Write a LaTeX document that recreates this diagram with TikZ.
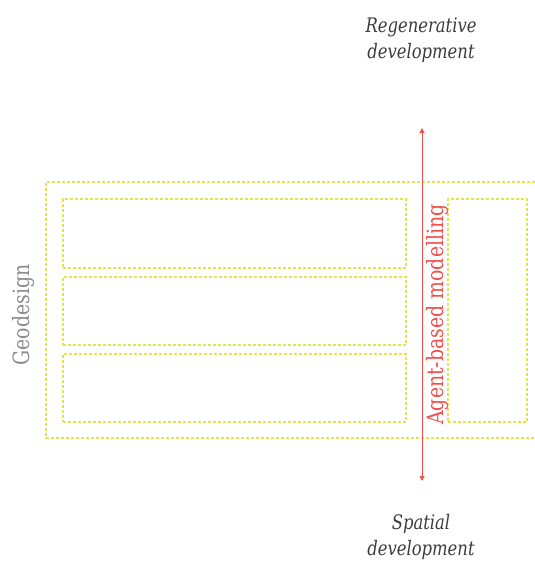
\documentclass[tikz,border=0pt]{standalone}
\usepackage{fontspec}
\setmainfont{DejaVu Serif}
\newfontfamily\labfont[FakeStretch=0.82]{DejaVu Serif}
\newfontfamily\upfont[FakeStretch=0.84]{DejaVu Serif}
\usetikzlibrary{arrows.meta}
\definecolor{dashyellow}{HTML}{E6E24A}
\definecolor{arrowred}{HTML}{F0504A}
\definecolor{darkgray}{HTML}{3C3C3C}
\definecolor{geogray}{HTML}{8C8C8C}
\begin{document}
\begin{tikzpicture}[x=1pt,y=-1pt,
  dashline/.style={draw=dashyellow, line width=1.4pt, dash pattern=on 3pt off 2pt},
  dashbox/.style={dashline, rectangle, inner sep=0pt},
  itlabel/.style={align=center, text=darkgray, inner sep=0pt,
    font={\labfont\fontsize{20}{26}\selectfont\itshape}},
  uplabel/.style={inner sep=0pt, font={\upfont\fontsize{22.5}{26}\selectfont}},
  axis/.style={draw=arrowred, line width=0.9pt, {Triangle[length=5pt,width=5pt]}-{Triangle[length=5pt,width=5pt]}}
]
\useasboundingbox (0,0) rectangle (535,565);
% outer open frame
\draw[dashline] (535,182) -- (46,182) -- (46,438) -- (535,438);
% inner boxes
\node[dashbox, minimum width=343pt, minimum height=69pt] (b1) at (234.5,233.5) {};
\node[dashbox, minimum width=343pt, minimum height=68pt] (b2) at (234.5,311) {};
\node[dashbox, minimum width=343pt, minimum height=68pt] (b3) at (234.5,388) {};
\node[dashbox, minimum width=79pt, minimum height=223pt] (b4) at (487.5,310.5) {};
% labels
\node[itlabel] (regen) at (421,40) {Regenerative\\development};
\node[itlabel] (spatial) at (421,537) {Spatial\\development};
\node[uplabel, text=geogray, rotate=90] (geo) at (23,315) {Geodesign};
\node[uplabel, text=arrowred, rotate=90] (abm) at (437,314.5) {Agent-based modelling};
% axis arrow
\coordinate (top) at (422,128);
\coordinate (bot) at (422,481);
\draw[axis] (bot) -- (top);
\end{tikzpicture}
\end{document}
